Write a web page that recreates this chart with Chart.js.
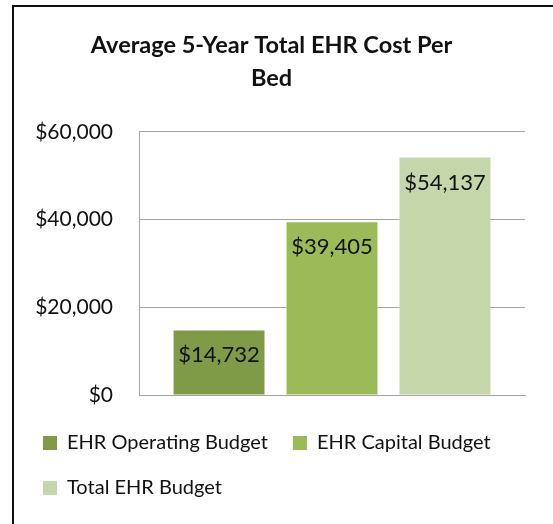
<!DOCTYPE html>
<html>
<head>
<meta charset="utf-8">
<script src="https://cdn.jsdelivr.net/npm/chart.js@4/dist/chart.umd.min.js"></script>
<style>
  html, body { margin: 0; padding: 0; background: #fff; }
  #wrap { position: relative; width: 553px; height: 524px; }
  #frame {
    position: absolute; left: 12px; top: 5px; width: 600px; height: 600px;
    border-left: 2px solid #111; border-top: 2px solid #111;
    pointer-events: none;
  }
  canvas { position: absolute; left: 0; top: 0; }
</style>
</head>
<body>
<div id="wrap">
  <canvas id="chart" width="553" height="524"></canvas>
  <div id="frame"></div>
</div>
<script>
// Chart data
const category = ['Average 5-Year Total EHR Cost Per Bed'];
const seriesNames = ['EHR Operating Budget', 'EHR Capital Budget', 'Total EHR Budget'];
const seriesValues = [14732, 39405, 54137];
const seriesColors = ['#7f9b48', '#9bbb59', '#c4d6aa'];
const yTicks = [0, 20000, 40000, 60000];

const fontFamily = 'Lato, "Open Sans", sans-serif';

const money = (v) => '$' + Number(v).toLocaleString('en-US');

// Draws the value label just inside the top of each bar
const barLabels = {
  id: 'barLabels',
  afterDatasetsDraw(chart) {
    const ctx = chart.ctx;
    ctx.save();
    ctx.font = `22px ${fontFamily}`;
    ctx.fillStyle = '#111';
    ctx.textAlign = 'center';
    ctx.textBaseline = 'middle';
    chart.data.datasets.forEach((ds, i) => {
      chart.getDatasetMeta(i).data.forEach((bar, j) => {
        ctx.fillText(money(ds.data[j]), bar.x, bar.y + 25);
      });
    });
    ctx.restore();
  },
};

new Chart(document.getElementById('chart'), {
  type: 'bar',
  data: {
    labels: category,
    datasets: seriesNames.map((name, i) => ({
      label: name,
      data: [seriesValues[i]],
      backgroundColor: seriesColors[i],
      categoryPercentage: 0.878,
      barPercentage: 0.805,
    })),
  },
  options: {
    responsive: false,
    animation: false,
    layout: { padding: { top: 19, left: 18, right: 28, bottom: 16 } },
    plugins: {
      title: {
        display: true,
        text: ['Average 5-Year Total EHR Cost Per', 'Bed'],
        color: '#111',
        font: { family: fontFamily, size: 23.5, weight: 'bold', lineHeight: 1.4 },
        padding: { top: 10, bottom: 37 },
      },
      legend: {
        position: 'bottom',
        align: 'start',
        labels: {
          color: '#111',
          font: { family: fontFamily, size: 20 },
          boxWidth: 14,
          boxHeight: 14,
          padding: 25,
        },
      },
      tooltip: { enabled: false },
    },
    scales: {
      x: {
        ticks: { display: false },
        grid: { display: false, drawTicks: false },
        border: { color: '#a6a6a6', width: 1 },
        afterFit: (scale) => {
          scale.height = 13;
        },
      },
      y: {
        min: 0,
        max: 60000,
        afterBuildTicks: (scale) => {
          scale.ticks = yTicks.map((v) => ({ value: v }));
        },
        afterFit: (scale) => {
          scale.width = 121;
        },
        ticks: {
          color: '#111',
          font: { family: fontFamily, size: 21 },
          padding: 26,
          callback: (v) => money(v),
        },
        grid: { color: '#a6a6a6', drawTicks: false },
        border: { color: '#a6a6a6', width: 1 },
      },
    },
  },
  plugins: [barLabels],
});
</script>
</body>
</html>
